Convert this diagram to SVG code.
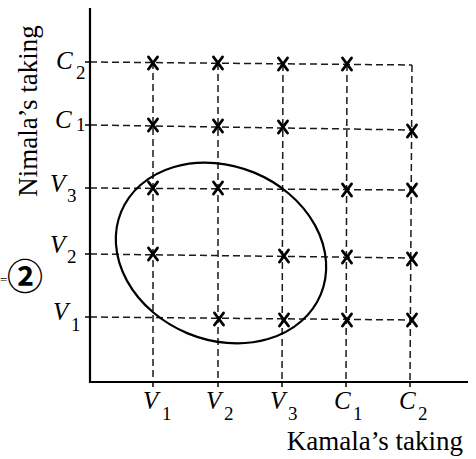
<svg xmlns="http://www.w3.org/2000/svg" width="476" height="459" viewBox="0 0 476 459">
<defs>
<style>
.axis{stroke:#000;stroke-width:2.2;fill:none}
.grid{stroke:#1a1a1a;stroke-width:1.5;stroke-dasharray:7 4;fill:none}
.tick{stroke:#000;stroke-width:1.5}
.mark{stroke:#000;stroke-width:2.9;fill:none;stroke-linecap:round}
.lbl{font-family:"Liberation Serif",serif;font-size:25px;font-style:italic;fill:#000}
.sub{font-style:normal;font-size:19px}
.title{font-family:"Liberation Serif",serif;font-size:27px;fill:#000}
</style>
<path id="x" class="mark" d="M-4.5,-6 L4.5,6 M4.5,-6 L-4.5,6"/>
</defs>
<rect width="476" height="459" fill="#fff"/>
<g id="connectors">
<line class="grid" x1="90" y1="62" x2="412" y2="65"/>
<line class="grid" x1="90" y1="125" x2="412" y2="130"/>
<line class="grid" x1="90" y1="188" x2="412" y2="190"/>
<line class="grid" x1="90" y1="254" x2="412" y2="258"/>
<line class="grid" x1="90" y1="317" x2="412" y2="320"/>
<line class="grid" x1="153" y1="62" x2="153" y2="382"/>
<line class="grid" x1="218" y1="63" x2="218" y2="382"/>
<line class="grid" x1="283" y1="64" x2="282" y2="382"/>
<line class="grid" x1="347" y1="64" x2="346" y2="382"/>
<line class="grid" x1="412" y1="65" x2="410" y2="382"/>
<line class="tick" x1="85" y1="62" x2="90" y2="62"/>
<line class="tick" x1="85" y1="125" x2="90" y2="125"/>
<line class="tick" x1="85" y1="188" x2="90" y2="188"/>
<line class="tick" x1="85" y1="254" x2="90" y2="254"/>
<line class="tick" x1="85" y1="317" x2="90" y2="317"/>
<line class="tick" x1="153" y1="382" x2="153" y2="387"/>
<line class="tick" x1="218" y1="382" x2="218" y2="387"/>
<line class="tick" x1="282" y1="382" x2="282" y2="387"/>
<line class="tick" x1="346" y1="382" x2="346" y2="387"/>
<line class="tick" x1="410" y1="382" x2="410" y2="387"/>
</g>
<g id="axes">
<polyline class="axis" points="90,8 90,382 468,382"/>
</g>
<g id="ellipse">
<ellipse cx="221" cy="253" rx="108" ry="87" transform="rotate(22.5 221 253)" fill="none" stroke="#000" stroke-width="2.2"/>
</g>
<g id="marks">
<use href="#x" x="153" y="63"/>
<use href="#x" x="218" y="63"/>
<use href="#x" x="283" y="64"/>
<use href="#x" x="347" y="64"/>
<use href="#x" x="153" y="125"/>
<use href="#x" x="218" y="126"/>
<use href="#x" x="283" y="127"/>
<use href="#x" x="412" y="131"/>
<use href="#x" x="153" y="188"/>
<use href="#x" x="218" y="188"/>
<use href="#x" x="347" y="190"/>
<use href="#x" x="412" y="190"/>
<use href="#x" x="153" y="254"/>
<use href="#x" x="284" y="256"/>
<use href="#x" x="347" y="257"/>
<use href="#x" x="412" y="259"/>
<use href="#x" x="219" y="319"/>
<use href="#x" x="284" y="320"/>
<use href="#x" x="347" y="320"/>
<use href="#x" x="412" y="320"/>
</g>
<g id="y-labels">
<text class="lbl" x="56" y="69">C<tspan class="sub" x="76" y="79">2</tspan></text>
<text class="lbl" x="55" y="128">C<tspan class="sub" x="76" y="131">1</tspan></text>
<text class="lbl" x="50" y="192">V<tspan class="sub" x="67" y="202">3</tspan></text>
<text class="lbl" x="50" y="253">V<tspan class="sub" x="67" y="263">2</tspan></text>
<text class="lbl" x="53" y="320">V<tspan class="sub" x="71" y="331">1</tspan></text>
</g>
<g id="x-labels">
<text class="lbl" x="143" y="409">V<tspan class="sub" x="162" y="420">1</tspan></text>
<text class="lbl" x="206" y="409">V<tspan class="sub" x="224" y="420">2</tspan></text>
<text class="lbl" x="270" y="409">V<tspan class="sub" x="288" y="420">3</tspan></text>
<text class="lbl" x="334" y="409">C<tspan class="sub" x="353" y="420">1</tspan></text>
<text class="lbl" x="399" y="409">C<tspan class="sub" x="418" y="420">2</tspan></text>
</g>
<g id="axis-titles">
<text class="title" x="463" y="450" text-anchor="end">Kamala’s taking</text>
<text class="title" transform="translate(37 111) rotate(-90)" text-anchor="middle" font-size="29">Nimala’s taking</text>
</g>
<g id="note">
<text x="0" y="284" font-family="Liberation Serif,serif" font-size="13">=</text>
<text x="25" y="290" text-anchor="middle" font-family="Noto Sans CJK JP,DejaVu Sans,sans-serif" font-weight="bold" font-size="36">②</text>
</g>
</svg>
